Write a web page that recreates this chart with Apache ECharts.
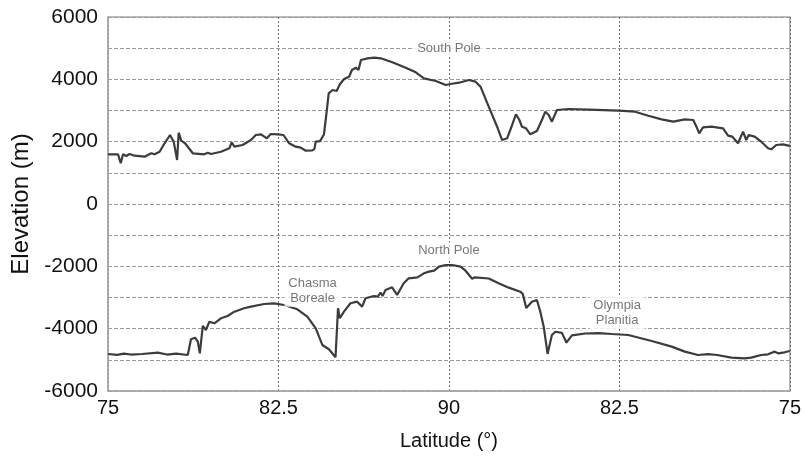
<!DOCTYPE html>
<html>
<head>
<meta charset="utf-8">
<script src="https://cdn.jsdelivr.net/npm/echarts@6/dist/echarts.min.js"></script>
<style>html,body{margin:0;padding:0;background:#fff}#c{width:804px;height:457px}</style>
</head>
<body>
<div id="c"></div>
<script>
// Distance along the profile (0 = 75°, 15 = pole, 30 = 75° on the far side)
var xTickLabels = ['75', '82.5', '90', '82.5', '75'];

var southDist = [0,0.44,0.56,0.66,0.80,0.95,1.17,1.61,1.90,2.05,2.27,2.49,2.73,2.89,3.04,3.11,3.22,3.39,3.73,4.24,4.39,4.53,4.97,5.34,5.44,5.56,5.92,6.29,6.50,6.73,6.99,7.16,7.46,7.72,7.97,8.26,8.48,8.70,8.99,9.08,9.14,9.33,9.50,9.62,9.71,9.88,10.06,10.20,10.39,10.61,10.73,10.91,11.02,11.13,11.42,11.71,12.00,12.51,13.10,13.54,13.90,14.42,14.86,15.07,15.44,15.88,16.17,16.39,16.75,17.12,17.34,17.56,17.78,17.95,18.10,18.21,18.39,18.58,18.87,19.09,19.24,19.39,19.53,19.75,20.26,21.14,22.46,23.19,23.77,24.36,24.87,25.38,25.75,25.89,26.01,26.18,26.55,27.06,27.28,27.47,27.72,27.94,28.08,28.19,28.45,28.74,29.04,29.18,29.40,29.69,29.94,30];
var southElev = [1595,1595,1306,1595,1540,1604,1550,1518,1627,1595,1678,1948,2214,2000,1412,2288,2031,1948,1627,1595,1646,1604,1678,1787,1980,1839,1893,2053,2214,2236,2108,2246,2236,2214,1948,1839,1807,1710,1720,1760,2000,2020,2230,2960,3552,3658,3626,3841,4011,4085,4300,4374,4300,4621,4674,4695,4674,4546,4374,4225,4033,3946,3818,3851,3892,3979,3925,3764,3122,2480,2053,2108,2535,2878,2695,2480,2429,2236,2342,2695,2962,2856,2641,3016,3048,3026,2994,2962,2833,2717,2641,2717,2695,2480,2267,2460,2480,2429,2192,2160,1948,2321,2053,2214,2160,2000,1787,1755,1893,1915,1871,1860];

var northDist = [0,0.4,0.7,1.0,1.5,2.19,2.6,3.0,3.51,3.65,3.83,3.95,4.04,4.17,4.31,4.46,4.68,4.97,5.26,5.56,5.99,6.29,6.87,7.31,7.75,8.33,8.77,9.14,9.43,9.72,10.01,10.12,10.20,10.38,10.67,10.96,11.18,11.33,11.70,11.87,11.99,12.08,12.21,12.50,12.72,13.01,13.23,13.61,13.90,14.12,14.35,14.56,14.86,15.15,15.51,15.73,16.02,16.14,16.75,17.19,17.63,18.14,18.25,18.40,18.65,18.87,19.02,19.17,19.34,19.53,19.68,19.97,20.17,20.41,21.0,21.58,22.16,22.89,23.92,24.80,25.38,25.96,26.4,26.8,27.43,28.01,28.3,28.74,29.04,29.33,29.48,29.77,30];
var northElev = [-4812,-4840,-4800,-4830,-4812,-4770,-4830,-4800,-4844,-4341,-4290,-4417,-4790,-3914,-4042,-3776,-3827,-3667,-3593,-3455,-3346,-3293,-3208,-3186,-3240,-3378,-3615,-3988,-4523,-4661,-4918,-3346,-3667,-3455,-3186,-3134,-3293,-3025,-2951,-2973,-2845,-2951,-2759,-2673,-2919,-2544,-2384,-2353,-2224,-2171,-2139,-2010,-1957,-1957,-2010,-2140,-2400,-2353,-2390,-2544,-2684,-2813,-2887,-3340,-3134,-3080,-3455,-3936,-4810,-4203,-4100,-4135,-4450,-4215,-4155,-4140,-4171,-4203,-4395,-4577,-4737,-4844,-4815,-4844,-4930,-4951,-4930,-4844,-4822,-4737,-4790,-4758,-4716];

var annoText = ['South Pole', 'North Pole', 'Chasma\nBoreale', 'Olympia\nPlanitia'];
var annoDist = [15, 15, 9.0, 22.4];
var annoElev = [5000, -1500, -2780, -3500];

function pairs(xs, ys) { return xs.map(function (x, i) { return [x, ys[i]]; }); }

var FONT = "'Liberation Sans', Arial, sans-serif";
var chart = echarts.init(document.getElementById('c'), null, {renderer: 'canvas'});
var lineStyle = {color: '#3c3c3c', width: 2.2};

chart.setOption({
  animation: false,
  backgroundColor: '#fff',
  grid: {left: 108, right: 12, top: 17, bottom: 66, show: true, borderColor: '#a8a8a8', borderWidth: 1.5, backgroundColor: 'transparent'},
  xAxis: {
    type: 'value', min: 0, max: 30, interval: 7.5,
    name: 'Latitude (°)', nameLocation: 'middle', nameGap: 40,
    nameTextStyle: {fontFamily: FONT, fontSize: 20, color: '#111'},
    axisLine: {show: true, onZero: false, lineStyle: {color: '#a8a8a8', width: 1.5}},
    axisTick: {show: false},
    axisLabel: {fontFamily: FONT, fontSize: 20, color: '#111', margin: 7, showMinLabel: true, showMaxLabel: true,
      formatter: function (v) { return xTickLabels[Math.round(v / 7.5)]; }},
    splitLine: {show: true, lineStyle: {color: '#6e6e6e', width: 1, type: [2, 2]}}
  },
  yAxis: {
    type: 'value', min: -6000, max: 6000, interval: 1000,
    name: 'Elevation (m)', nameLocation: 'middle', nameGap: 68,
    nameTextStyle: {fontFamily: FONT, fontSize: 24, color: '#111'},
    axisLine: {show: true, onZero: false, lineStyle: {color: '#a8a8a8', width: 1.5}},
    axisTick: {show: false},
    axisLabel: {fontFamily: FONT, fontSize: 21, color: '#111', margin: 10, showMinLabel: true, showMaxLabel: true,
      formatter: function (v) { return (v % 2000 === 0) ? String(v) : ''; }},
    splitLine: {show: true, lineStyle: {color: '#9a9a9a', width: 1, type: [4, 2]}}
  },
  series: [
    {type: 'line', data: pairs(southDist, southElev), showSymbol: false, symbol: 'none', lineStyle: lineStyle, z: 3},
    {type: 'line', data: pairs(northDist, northElev), showSymbol: false, symbol: 'none', lineStyle: lineStyle, z: 3},
    {type: 'scatter', data: pairs(annoDist, annoElev).map(function (p, i) { return {value: p, name: annoText[i]}; }),
      symbolSize: 0, z: 4,
      label: {show: true, position: 'inside', formatter: function (p) { return p.name; },
        fontFamily: FONT, fontSize: 13, color: '#555', lineHeight: 15,
        backgroundColor: '#fff', padding: [1, 4, 1, 4]}}
  ]
});
</script>
</body>
</html>
